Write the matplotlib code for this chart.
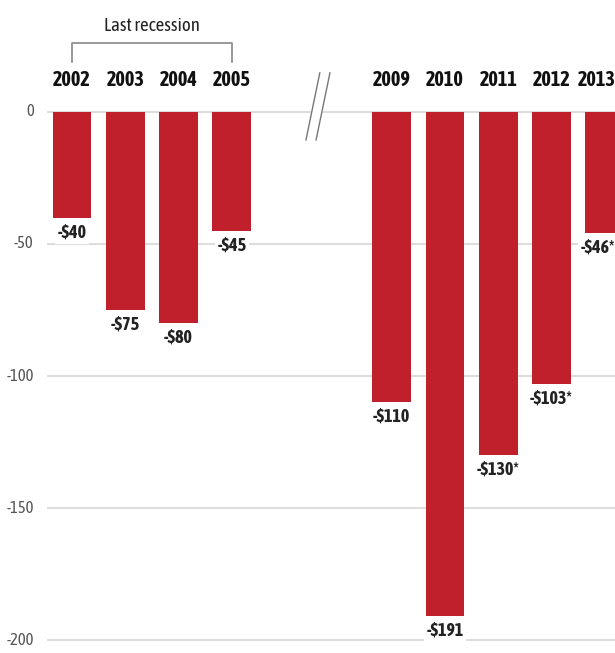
import matplotlib
matplotlib.use("Agg")
import matplotlib.pyplot as plt
from matplotlib import font_manager
import numpy as np

# Data (deficit, $ billions)
years = ["2002", "2003", "2004", "2005", "2009", "2010", "2011", "2012", "2013"]
values = [-40, -75, -80, -45, -110, -191, -130, -103, -46]
value_labels = ["-$40", "-$75", "-$80", "-$45", "-$110", "-$191", "-$130*", "-$103*", "-$46*"]
yticks = [0, -50, -100, -150, -200]
recession_label = "Last recession"

# pick a narrow face with a bold weight if one is installed
fonts = font_manager.fontManager.ttflist
narrow = sorted({f.name for f in fonts
                 if ("Narrow" in f.name or "Condensed" in f.name)
                 and (f.weight == "bold" or (isinstance(f.weight, int) and f.weight >= 600))})
if not narrow:
    narrow = sorted({f.name for f in fonts if "Narrow" in f.name or "Condensed" in f.name})
plt.rcParams["font.family"] = narrow[:1] + ["DejaVu Sans"]
plt.rcParams["font.stretch"] = "condensed"

bar_color = "#C0202B"
grid_color = "#dddddd"

# gap of two slots between 2005 and 2009 for the axis break
idx = np.arange(len(years))
x = idx + np.where(idx >= 4, 2, 0)

fig = plt.figure(figsize=(6.15, 6.53), dpi=100)
ax = fig.add_axes([47 / 615, 0, 1 - 47 / 615, 1])
ax.set_xlim(-0.47, 10.19)
ax.set_ylim(-204.9, 42.4)

# gridlines
for t in yticks:
    ax.axhline(t, color=grid_color, lw=1.5, zorder=1)
    ax.text(-0.72, t, str(t), ha="right", va="center", fontsize=12,
            color="#555555", clip_on=False)

ax.bar(x, values, width=0.73, color=bar_color, zorder=3)

last = len(years) - 1

# year labels on top
for i, (xi, yr) in enumerate(zip(x, years)):
    ax.annotate(yr, (xi, 12), xytext=(-6 if i == last else 0, 0),
                textcoords="offset points", ha="center", va="center",
                fontsize=14.5, fontweight="bold", color="#111111")

# value labels below bars
for i, (xi, v, lab) in enumerate(zip(x, values, value_labels)):
    ax.annotate(lab, (xi, v), xytext=(-5 if i == last else 0, -4),
                textcoords="offset points",
                ha="center", va="top", fontsize=13, fontweight="bold",
                color="#222222", parse_math=False, zorder=4,
                bbox=dict(boxstyle="square,pad=0.15", fc="white", ec="none"))

# "Last recession" bracket
bx0, bx1 = x[0], x[3]
ax.plot([bx0, bx0, bx1, bx1], [19, 26.2, 26.2, 19], color="#888888", lw=1.2,
        clip_on=False, zorder=2)
ax.text((bx0 + bx1) / 2, 32.5, recession_label, ha="center", va="center",
        fontsize=13.5, color="#222222")

# axis break mark
ax.fill([4.39, 4.65, 4.84, 4.58], [-10.6, 14.8, 14.8, -10.6], color="white", zorder=2)
for dx in (0, 0.19):
    ax.plot([4.39 + dx, 4.65 + dx], [-10.6, 14.8], color="#777777", lw=1.0, zorder=2)

ax.axis("off")
fig.savefig("out.png", dpi=100)
